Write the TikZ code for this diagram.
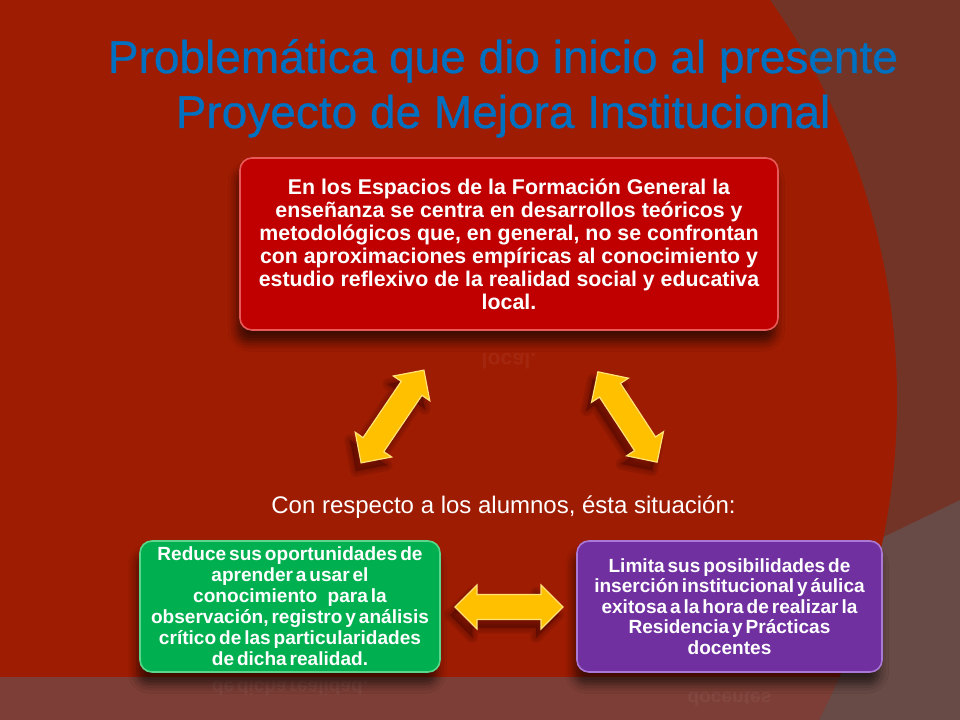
\documentclass[tikz,border=0pt]{standalone}
\usepackage{fontspec}
\setmainfont{Liberation Sans}
\newfontfamily\boxfont[WordSpace=0.55]{Liberation Sans}
\newfontfamily\titlefont[FakeBold=0.7]{Liberation Sans}
\usetikzlibrary{shadows.blur}
\definecolor{bgred}{RGB}{158,28,2}
\definecolor{bgbrown}{RGB}{115,52,40}
\definecolor{bggray}{RGB}{104,74,70}
\definecolor{bgband}{RGB}{124,62,54}
\definecolor{boxred}{RGB}{192,0,0}
\definecolor{rimred}{RGB}{232,90,90}
\definecolor{boxgreen}{RGB}{0,176,80}
\definecolor{rimgreen}{RGB}{90,215,140}
\definecolor{boxpurple}{RGB}{112,48,160}
\definecolor{rimpurple}{RGB}{170,120,215}
\definecolor{titleblue}{RGB}{0,112,192}
\definecolor{arrowgold}{RGB}{255,192,0}
\definecolor{arrowrim}{RGB}{255,226,120}
\definecolor{shadowc}{RGB}{70,8,0}
\tikzset{
  box/.style={rounded corners=9pt, line width=1.2pt, text=white, align=center,
    inner sep=0pt,
    blur shadow={shadow xshift=-2pt, shadow yshift=-9pt, shadow opacity=60, shadow blur radius=7pt}},
  titletext/.style={font=\titlefont\fontsize{34.5}{41}\selectfont, anchor=base, inner sep=0pt},
  reflect/.style={yscale=-1, transform shape, text=white, opacity=0.05, inner sep=0pt},
  arrowpath/.style={insert path={(-#1,0) -- (-#1+22,22) -- (-#1+22,12.5) -- (#1-22,12.5) -- (#1-22,22) -- (#1,0) -- (#1-22,-22) -- (#1-22,-12.5) -- (-#1+22,-12.5) -- (-#1+22,-22) -- cycle}},
  arrowbody/.style={fill=arrowgold, draw=arrowrim, line width=0.9pt, line join=miter},
  arrowshadow/.style={fill=shadowc, draw=shadowc, line join=round, opacity=0.13}
}
\newcommand\goldarrow[3]{%
  \begin{scope}[shift={(-5,8)}]
    \begin{scope}[shift={#1}, rotate=#2]
      \foreach \lw in {12,8,4,0}{\filldraw[arrowshadow, line width=\lw*0.75pt, arrowpath=#3];}
    \end{scope}
  \end{scope}
  \begin{scope}[shift={#1}, rotate=#2]
    \filldraw[arrowbody, arrowpath=#3];
  \end{scope}}
\begin{document}
\begin{tikzpicture}[x=0.75pt, y=-0.75pt]
\useasboundingbox (0,0) rectangle (960,720);
% background
\fill[bggray] (0,0) rectangle (960,720);
\fill[bgbrown] (0,0) -- (960,0) -- (960,500) -- (877,540) -- (0,540) -- cycle;
\begin{scope}
  \clip (0,0) rectangle (960,677);
  \fill[bgred] (204,400) circle (693);
\end{scope}
\begin{scope}
  \clip (0,677) rectangle (960,720);
  \fill[bgband] (204,400) circle (693);
\end{scope}
% title
\node[titletext, text=titleblue] (t1) at (503,73) {Problemática que dio inicio al presente};
\node[titletext, text=titleblue] (t2) at (503,128) {Proyecto de Mejora Institucional};
% reflections
\node[reflect, font=\fontsize{16}{17}\selectfont\bfseries] (r1) at (509,361) {local.};
\node[reflect, font=\boxfont\fontsize{14.3}{15.6}\selectfont\bfseries] (r2) at (290,688) {de dicha realidad.};
\node[reflect, font=\boxfont\fontsize{14.3}{15.6}\selectfont\bfseries] (r3) at (729.5,699) {docentes};
% top box
\node[box, fill=boxred, draw=rimred, minimum width=403.5pt, minimum height=129pt,
  font=\fontsize{16}{17.25}\selectfont\bfseries] (top) at (509,244)
  {En los Espacios de la Formación General la\\
   enseñanza se centra en desarrollos teóricos y\\
   metodológicos que, en general, no se confrontan\\
   con aproximaciones empíricas al conocimiento y\\
   estudio reflexivo de la realidad social y educativa\\
   local.};
% subtitle
\node[anchor=base, text=white, inner sep=0pt, font=\fontsize{18}{21}\selectfont] (sub) at (503.5,513)
  {Con respecto a los alumnos, ésta situación:};
% green box
\node[box, fill=boxgreen, draw=rimgreen, minimum width=225pt, minimum height=98.25pt,
  font=\boxfont\fontsize{14.3}{15.75}\selectfont\bfseries] (green) at (290,606.5)
  {Reduce sus oportunidades de\\
   aprender a usar el\\
   conocimiento\hspace{0.55em}para la\\
   observación, registro y análisis\\
   crítico de las particularidades\\
   de dicha realidad.};
% purple box
\node[box, fill=boxpurple, draw=rimpurple, minimum width=228.75pt, minimum height=98.25pt,
  font=\boxfont\fontsize{14.3}{15.4}\selectfont\bfseries] (purple) at (729.5,606.5)
  {Limita sus posibilidades de\\
   inserción institucional y áulica\\
   exitosa a la hora de realizar la\\
   Residencia y Prácticas\\
   docentes};
% arrows
\goldarrow{(392.5,416.5)}{55.9}{56}
\goldarrow{(627.5,417)}{-56.8}{54}
\goldarrow{(509,607)}{0}{54}
\end{tikzpicture}
\end{document}
